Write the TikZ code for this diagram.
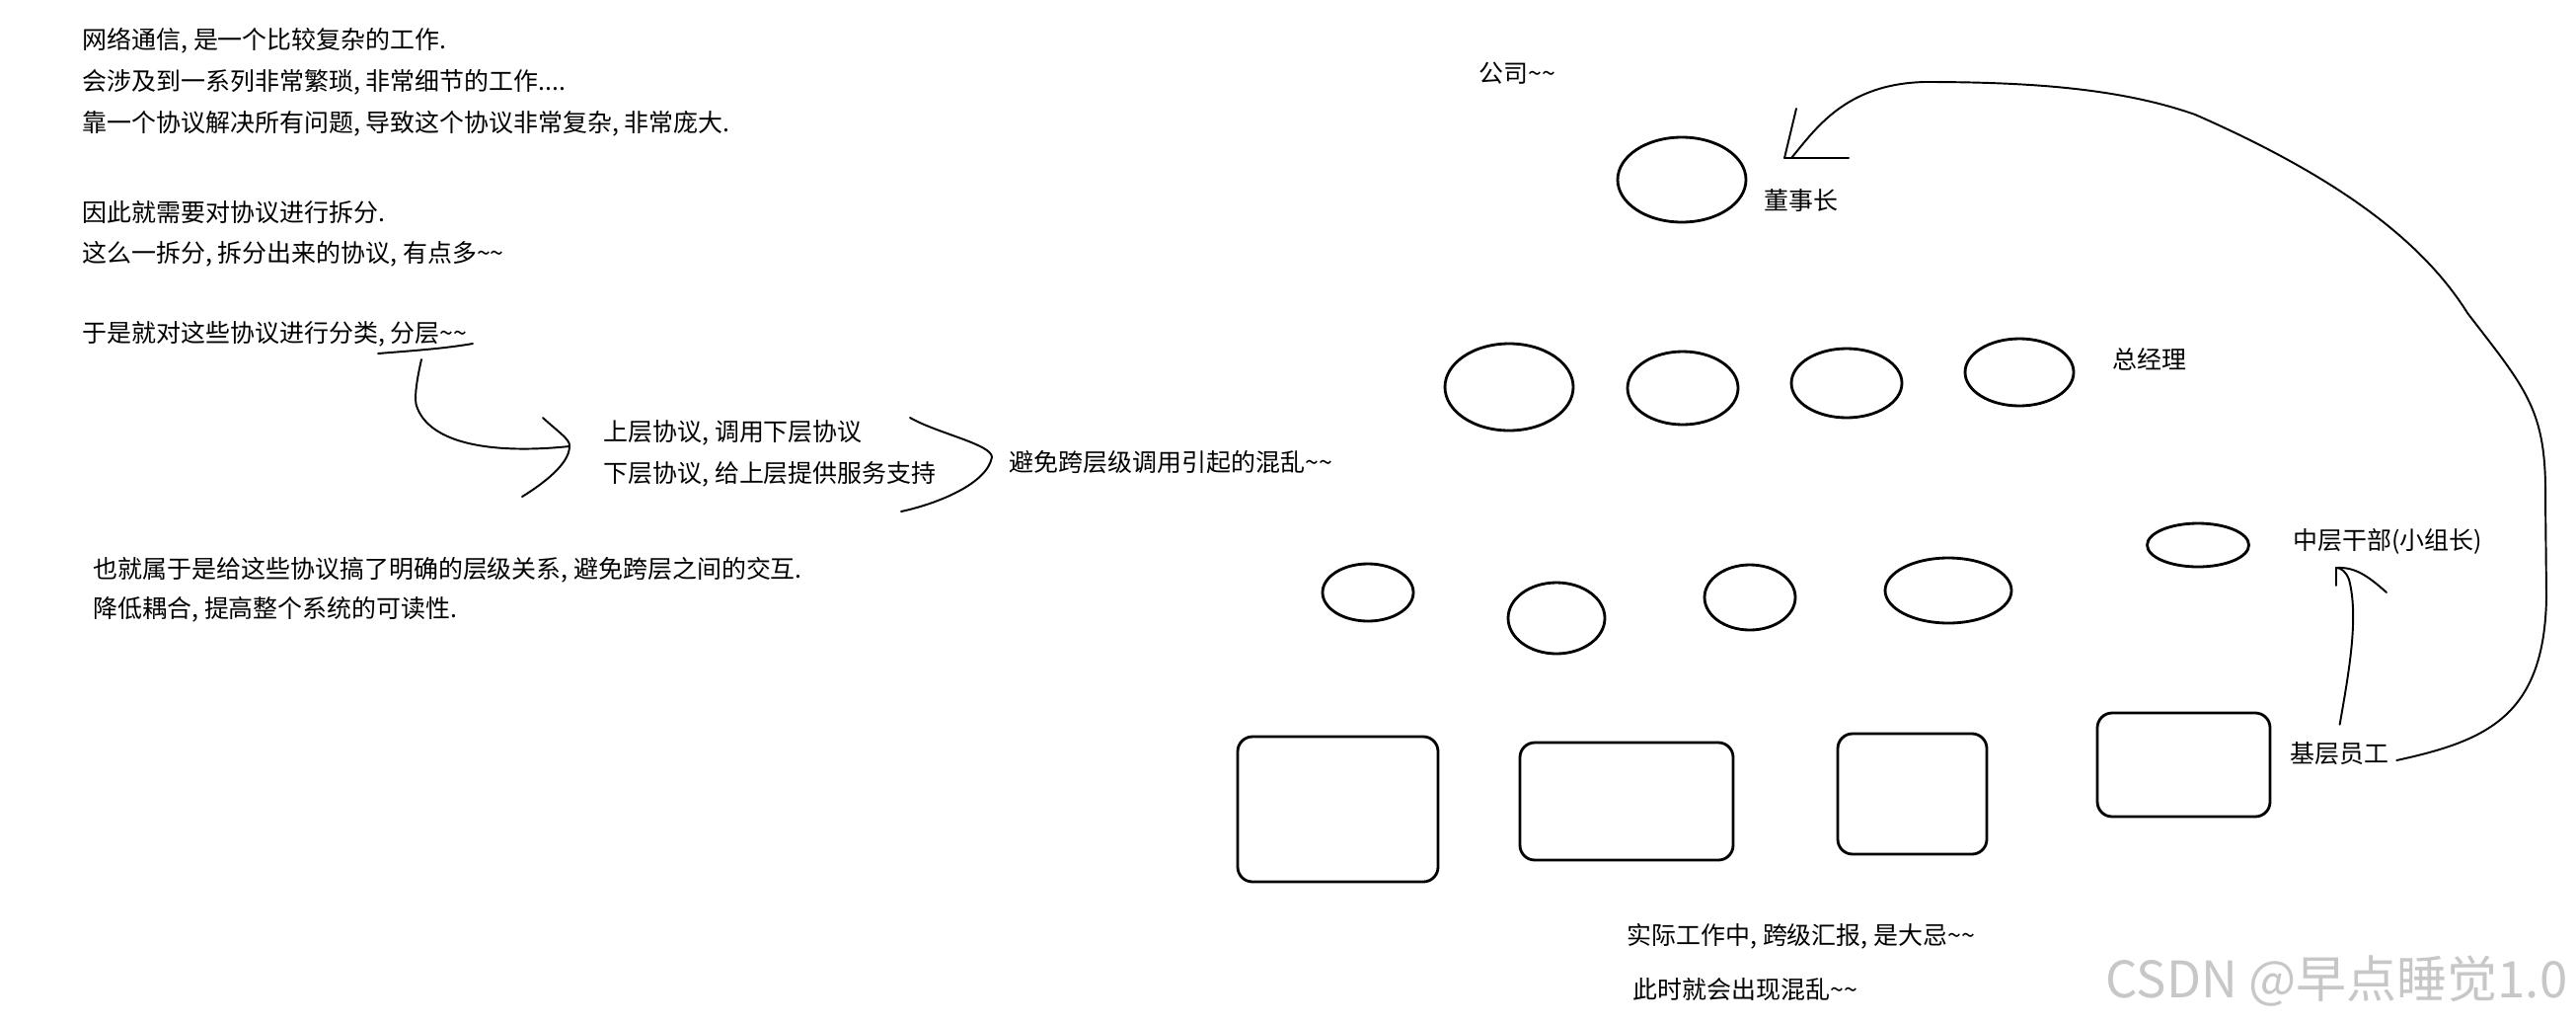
\documentclass[tikz,border=0pt]{standalone}
\usepackage{fontspec}
\setmainfont{Noto Sans CJK SC}
\usetikzlibrary{shapes.geometric}
\newcommand{\tld}{\textasciitilde}
\tikzset{
  lbl/.style={anchor=west,inner sep=0pt,font=\fontsize{7.1}{8.5}\selectfont},
  ren/.style={draw,ellipse,line width=0.8pt,inner sep=0pt},
  yuangong/.style={draw,rounded corners=0.15cm,line width=0.8pt,inner sep=0pt},
  bi/.style={line width=0.55pt,line cap=round,line join=round}
}
\begin{document}
\begin{tikzpicture}[x=1cm,y=1cm]
\path[fill=white] (0,0) rectangle (26.1,10.35);
\useasboundingbox (0,0) rectangle (26.1,10.35);
% left text
\node[lbl] (l1) at (0.83,9.94) {网络通信, 是一个比较复杂的工作.};
\node[lbl] (l2) at (0.83,9.52) {会涉及到一系列非常繁琐, 非常细节的工作....};
\node[lbl] (l3) at (0.83,9.10) {靠一个协议解决所有问题, 导致这个协议非常复杂, 非常庞大.};
\node[lbl] (l4) at (0.83,8.20) {因此就需要对协议进行拆分.};
\node[lbl] (l5) at (0.83,7.78) {这么一拆分, 拆分出来的协议, 有点多\tld\tld};
\node[lbl] (l6) at (0.83,6.97) {于是就对这些协议进行分类, 分层\tld\tld};
\node[lbl] (shang) at (6.11,5.97) {上层协议, 调用下层协议};
\node[lbl] (xia) at (6.11,5.55) {下层协议, 给上层提供服务支持};
\node[lbl] (bimian) at (10.22,5.67) {避免跨层级调用引起的混乱\tld\tld};
\node[lbl] (b1) at (0.94,4.58) {也就属于是给这些协议搞了明确的层级关系, 避免跨层之间的交互.};
\node[lbl] (b2) at (0.94,4.18) {降低耦合, 提高整个系统的可读性.};
\coordinate (fenceng) at (4.27,6.71);
\coordinate (kuo) at (5.77,5.83);
\draw[bi] (3.83,6.77) .. controls (4.2,6.80) and (4.5,6.82) .. (4.79,6.87);
\draw[bi] (fenceng) .. controls (4.21,6.45) and (4.20,6.30) .. (4.22,6.24) .. controls (4.35,5.85) and (5.0,5.75) .. (kuo);
\draw[bi] (5.50,6.12) .. controls (5.65,5.98) and (5.78,5.90) .. (kuo) .. controls (5.77,5.65) and (5.5,5.45) .. (5.29,5.32);
\draw[bi] (9.22,6.12) .. controls (9.5,5.96) and (10.05,5.85) .. (10.05,5.72) .. controls (10.0,5.45) and (9.5,5.25) .. (9.13,5.17);
% company
\node[lbl] (gongsi) at (14.98,9.61) {公司\tld\tld};
\node[ren,minimum width=1.30cm,minimum height=0.86cm] (dsz) at (17.04,8.53) {};
\node[lbl] (dszl) at (17.87,8.32) {董事长};
\node[ren,minimum width=1.30cm,minimum height=0.88cm] (zjl1) at (15.29,6.43) {};
\node[ren,minimum width=1.12cm,minimum height=0.74cm] (zjl2) at (17.05,6.42) {};
\node[ren,minimum width=1.12cm,minimum height=0.70cm] (zjl3) at (18.71,6.47) {};
\node[ren,minimum width=1.10cm,minimum height=0.68cm] (zjl4) at (20.46,6.58) {};
\node[lbl] (zjll) at (21.40,6.71) {总经理};
\node[ren,minimum width=0.92cm,minimum height=0.58cm] (zc1) at (13.86,4.35) {};
\node[ren,minimum width=0.98cm,minimum height=0.72cm] (zc2) at (15.77,4.09) {};
\node[ren,minimum width=0.92cm,minimum height=0.66cm] (zc3) at (17.73,4.30) {};
\node[ren,minimum width=1.28cm,minimum height=0.66cm] (zc4) at (19.74,4.37) {};
\node[ren,minimum width=1.03cm,minimum height=0.44cm] (zc5) at (22.27,4.83) {};
\node[lbl] (zcl) at (23.23,4.87) {中层干部(小组长)};
\node[yuangong,minimum width=2.03cm,minimum height=1.47cm] (jc1) at (13.555,2.155) {};
\node[yuangong,minimum width=2.16cm,minimum height=1.19cm] (jc2) at (16.48,2.235) {};
\node[yuangong,minimum width=1.51cm,minimum height=1.22cm] (jc3) at (19.375,2.31) {};
\node[yuangong,minimum width=1.75cm,minimum height=1.05cm] (jc4) at (22.125,2.605) {};
\node[lbl] (jcl) at (23.20,2.72) {基层员工};
\node[lbl] (t1) at (16.48,0.87) {实际工作中, 跨级汇报, 是大忌\tld\tld};
\node[lbl] (t2) at (16.54,0.33) {此时就会出现混乱\tld\tld};
% arrows
\coordinate (dsztip) at (18.15,8.75);
\draw[bi] ([shift={(0.07,-0.07)}]jcl.east) .. controls (25.2,2.85) and (25.78,3.1) .. (25.80,4.3)
  -- (25.79,5.3) .. controls (25.8,6.2) and (25.6,6.4) .. (25.0,7.18)
  .. controls (24.55,7.9) and (23.7,8.55) .. (22.24,9.19)
  .. controls (21.5,9.45) and (20.6,9.52) .. (19.5,9.52)
  .. controls (18.7,9.5) and (18.4,9.05) .. (dsztip);
\draw[bi] ([xshift=-0.07cm]dsztip) -- ++(0.12,0.5);
\draw[bi] ([xshift=-0.07cm]dsztip) -- ++(0.65,0);
\coordinate (zhtip) at (23.67,4.60);
\draw[bi] ([yshift=0.17cm]jcl.north) .. controls (23.80,3.55) and (23.9,4.1) .. (23.80,4.48)
  .. controls (23.77,4.56) and (23.72,4.60) .. (zhtip);
\draw[bi] (zhtip) -- ++(0,-0.18);
\draw[bi] (zhtip) .. controls (23.85,4.61) and (23.98,4.53) .. (24.18,4.35);
% watermark
\node[anchor=west,inner sep=0pt,text=black!22,font=\fontsize{14.5}{16}\selectfont] (wm) at (21.33,0.42) {CSDN @早点睡觉1.0};
\end{tikzpicture}
\end{document}
